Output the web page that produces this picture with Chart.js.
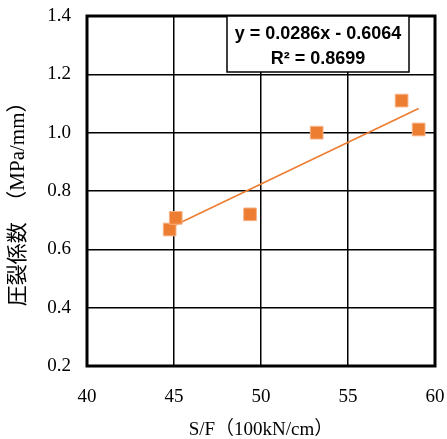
<!DOCTYPE html>
<html><head><meta charset="utf-8">
<script src="https://cdn.jsdelivr.net/npm/chart.js@4"></script>
<style>html,body{margin:0;padding:0;background:#fff}#wrap{width:447px;height:439px}</style>
</head><body><div id="wrap"><canvas id="c" width="447" height="439"></canvas></div>
<script>
const sfValues = [44.75, 45.1, 49.37, 53.2, 58.08, 59.06];
const coefValues = [0.668, 0.708, 0.720, 1.000, 1.110, 1.011];
const trendX = [44.75, 59.06];
const trendY = [0.674, 1.083];
const xTicks = [40, 45, 50, 55, 60];
const yTicks = [0.2, 0.4, 0.6, 0.8, 1.0, 1.2, 1.4];
const equationLines = ['y = 0.0286x - 0.6064', 'R² = 0.8699'];
const xTitle = 'S/F（100kN/cm）';
const yTitle = '圧裂係数　（MPa/mm）　 ';

const orange = '#ED7D31';
const serif = "'Liberation Serif', 'Noto Sans CJK JP', serif";

const framePlugin = {
  id: 'frame',
  beforeDraw(chart) {
    const ctx = chart.ctx;
    ctx.save();
    ctx.fillStyle = '#fff';
    ctx.fillRect(0, 0, chart.width, chart.height);
    ctx.restore();
  },
  afterDatasetsDraw(chart) {
    const ctx = chart.ctx, a = chart.chartArea;
    ctx.save();
    ctx.lineWidth = 3;
    ctx.strokeStyle = '#000';
    ctx.strokeRect(a.left, a.top, a.right - a.left, a.bottom - a.top);
    // equation box
    const bl = a.left + 140, bt = a.top, br = a.left + 322, bb = a.top + 56;
    ctx.fillStyle = '#fff';
    ctx.fillRect(bl, bt, br - bl, bb - bt);
    ctx.lineWidth = 1.5;
    ctx.strokeRect(bl, bt, br - bl, bb - bt);
    ctx.fillStyle = '#000';
    ctx.font = "bold 18px 'Liberation Sans', Arial, sans-serif";
    ctx.textAlign = 'center';
    ctx.textBaseline = 'middle';
    const cx = (bl + br) / 2;
    ctx.fillText(equationLines[0], cx, bt + 18);
    ctx.fillText(equationLines[1], cx, bt + 43);
    ctx.restore();
  }
};

new Chart(document.getElementById('c'), {
  type: 'scatter',
  data: {
    datasets: [
      {
        data: sfValues.map((x, i) => ({ x, y: coefValues[i] })),
        pointStyle: 'rect',
        pointRadius: 9,
        pointHoverRadius: 9,
        backgroundColor: orange,
        borderColor: '#F6B48A',
        borderWidth: 1
      },
      {
        type: 'line',
        data: trendX.map((x, i) => ({ x, y: trendY[i] })),
        borderColor: orange,
        borderWidth: 1.6,
        pointRadius: 0,
        fill: false
      }
    ]
  },
  options: {
    responsive: false,
    animation: false,
    layout: { autoPadding: false, padding: { left: 6, top: 16, right: 12, bottom: 0 } },
    plugins: { legend: { display: false }, tooltip: { enabled: false } },
    scales: {
      x: {
        type: 'linear', min: 40, max: 60,
        afterBuildTicks: s => { s.ticks = xTicks.map(v => ({ value: v })); },
        afterFit: s => { s.height = 73; s.paddingLeft = 0; s.paddingRight = 0; s.paddingTop = 0; s.paddingBottom = 0; },
        grid: { color: '#000', lineWidth: 1.5, drawTicks: false },
        border: { display: false },
        ticks: { padding: 20, color: '#000', font: { family: serif, size: 19 }, callback: v => String(v) },
        title: { display: true, text: xTitle, color: '#000', font: { family: serif, size: 19 }, padding: { top: 0, bottom: -2 } }
      },
      y: {
        type: 'linear', min: 0.2, max: 1.4,
        afterBuildTicks: s => { s.ticks = yTicks.map(v => ({ value: v })); },
        afterFit: s => { s.width = 81; s.paddingLeft = 0; s.paddingRight = 0; s.paddingTop = 0; s.paddingBottom = 0; },
        grid: { color: '#000', lineWidth: 1.5, drawTicks: false },
        border: { display: false },
        ticks: { padding: 16, color: '#000', font: { family: serif, size: 19 }, callback: v => Number(v).toFixed(1) },
        title: { display: true, text: yTitle, color: '#000', font: { family: serif, size: 21 }, padding: { top: 0, bottom: 0 } }
      }
    }
  },
  plugins: [framePlugin]
});
</script></body></html>
